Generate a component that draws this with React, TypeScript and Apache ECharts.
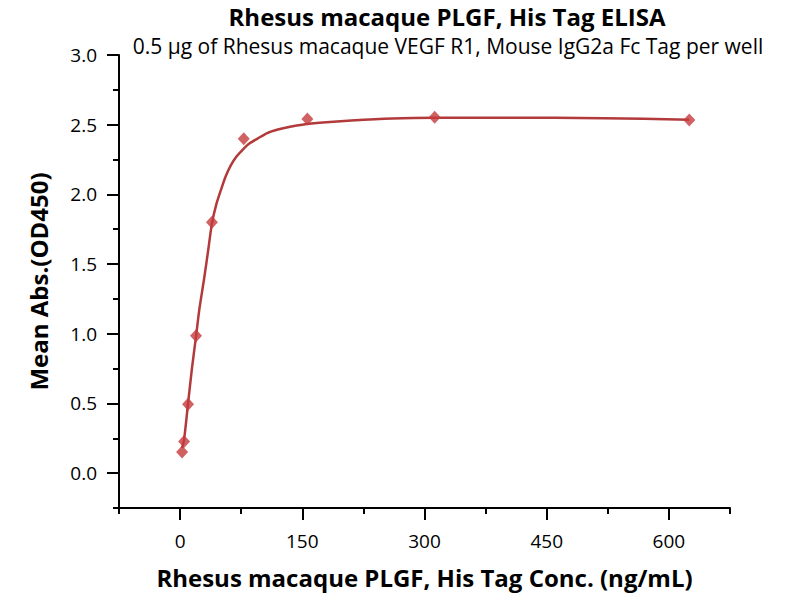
import React, { useEffect, useRef } from "react";
import * as echarts from "echarts";

const concentrations = [625, 312.5, 156.25, 78.125, 39.06, 19.53, 9.77, 4.88, 2.44];
const absorbance = [2.534, 2.554, 2.54, 2.4, 1.8, 0.985, 0.495, 0.227, 0.152];

const fitX = [2.44, 4.88, 9.77, 14.5, 19.53, 23.5, 29.6, 34.5, 39.06, 44.5, 50, 56, 62.4, 69, 76.7, 85, 95, 107, 120, 135, 150, 175, 210, 260, 312.5, 400, 520, 625];
const fitY = [0.18, 0.24, 0.5, 0.75, 0.98, 1.17, 1.4, 1.6, 1.79, 1.93, 2.03, 2.13, 2.21, 2.27, 2.32, 2.365, 2.4, 2.44, 2.465, 2.485, 2.5, 2.515, 2.53, 2.545, 2.55, 2.55, 2.547, 2.535];

const xMajorTicks = [0, 150, 300, 450, 600];
const xMinorTicks = [-75, 75, 225, 375, 525, 675];
const yMajorTicks = [0, 0.5, 1.0, 1.5, 2.0, 2.5, 3.0];
const yMinorTicks = [-0.25, 0.25, 0.75, 1.25, 1.75, 2.25, 2.75];

const titleText = "Rhesus macaque PLGF, His Tag ELISA";
const subtitleText = "0.5 µg of Rhesus macaque VEGF R1, Mouse IgG2a Fc Tag per well";
const xName = "Rhesus macaque PLGF, His Tag Conc. (ng/mL)";
const yName = "Mean Abs.(OD450)";

const FONT = "'Open Sans', Lato, sans-serif";

export default function App() {
  const ref = useRef<HTMLDivElement>(null);
  useEffect(() => {
    if (!ref.current) return;
    const chart = echarts.init(ref.current, null, { renderer: "svg" });
    const axisLine = { show: true, onZero: false, lineStyle: { color: "#000", width: 2 } };
    const hiddenLine = { show: false, onZero: false };
    const option: any = {
      animation: false,
      backgroundColor: "#fff",
      textStyle: { fontFamily: FONT },
      graphic: [
        {
          type: "text",
          x: 447,
          y: 16,
          style: {
            text: titleText,
            font: `bold 24px ${FONT}`,
            fill: "#000",
            textAlign: "center",
            textVerticalAlign: "middle",
          },
        },
        {
          type: "text",
          x: 448,
          y: 46,
          style: {
            text: subtitleText,
            font: `21px ${FONT}`,
            fill: "#000",
            textAlign: "center",
            textVerticalAlign: "middle",
          },
        },
      ],
      grid: { left: 119, right: 70, top: 55, bottom: 92, containLabel: false },
      xAxis: [
        {
          type: "value",
          min: -75,
          max: 675,
          interval: 75,
          position: "bottom",
          axisLine,
          splitLine: { show: false },
          axisTick: { show: true, customValues: xMinorTicks, length: 6, lineStyle: { color: "#000", width: 2 } },
          axisLabel: {
            show: true,
            customValues: xMajorTicks,
            margin: 23,
            fontSize: 19,
            color: "#000",
            fontFamily: FONT,
          },
          name: xName,
          nameLocation: "middle",
          nameGap: 57,
          nameTextStyle: { fontSize: 24, fontWeight: "bold", color: "#000", fontFamily: FONT },
        },
        {
          type: "value",
          min: -75,
          max: 675,
          interval: 75,
          position: "bottom",
          axisLine: hiddenLine,
          splitLine: { show: false },
          axisTick: { show: true, customValues: xMajorTicks, length: 12, lineStyle: { color: "#000", width: 2 } },
          axisLabel: { show: false },
        },
      ],
      yAxis: [
        {
          type: "value",
          min: -0.25,
          max: 3,
          interval: 0.25,
          position: "left",
          axisLine,
          splitLine: { show: false },
          axisTick: { show: true, customValues: yMinorTicks, length: 6, lineStyle: { color: "#000", width: 2 } },
          axisLabel: {
            show: true,
            customValues: yMajorTicks,
            margin: 22,
            fontSize: 19,
            color: "#000",
            fontFamily: FONT,
            formatter: (v: number) => v.toFixed(1),
          },
          name: yName,
          nameLocation: "middle",
          nameGap: 69,
          nameRotate: 90,
          nameTextStyle: { fontSize: 24, fontWeight: "bold", color: "#000", fontFamily: FONT },
        },
        {
          type: "value",
          min: -0.25,
          max: 3,
          interval: 0.25,
          position: "left",
          axisLine: hiddenLine,
          splitLine: { show: false },
          axisTick: { show: true, customValues: yMajorTicks, length: 12, lineStyle: { color: "#000", width: 2 } },
          axisLabel: { show: false },
        },
      ],
      series: [
        {
          type: "line",
          xAxisIndex: 0,
          yAxisIndex: 0,
          data: fitX.map((x, i) => [x, fitY[i]]),
          showSymbol: false,
          symbol: "none",
          smooth: 0.25,
          lineStyle: { color: "#b23a3b", width: 2.5 },
          z: 2,
        },
        {
          type: "scatter",
          xAxisIndex: 0,
          yAxisIndex: 0,
          data: concentrations.map((x, i) => [x, absorbance[i]]),
          symbol: "diamond",
          symbolSize: [12, 13],
          itemStyle: { color: "#c63b3d" },
          z: 3,
        },
      ],
    };
    chart.setOption(option);
    return () => chart.dispose();
  }, []);
  return (
    <div
      ref={ref}
      style={{ position: "absolute", left: 0, top: 0, width: 800, height: 600 }}
    />
  );
}
